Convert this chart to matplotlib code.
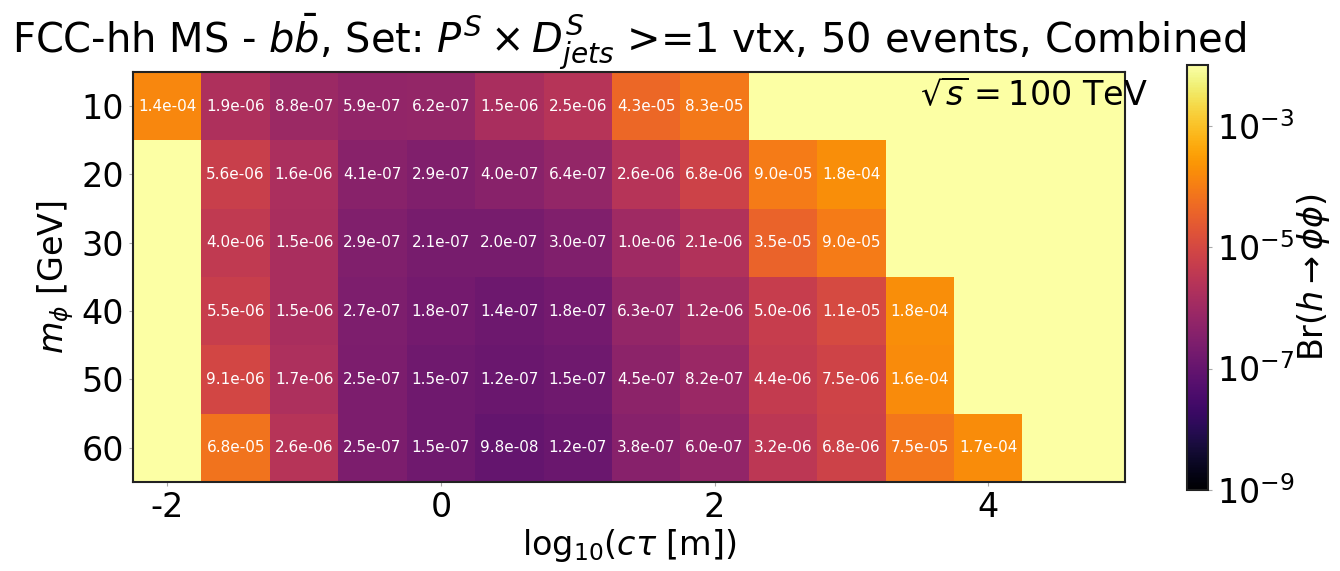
import matplotlib
matplotlib.use("Agg")
import matplotlib.pyplot as plt
import numpy as np
from matplotlib.colors import LogNorm

plt.rcParams["axes.unicode_minus"] = False

nan = np.nan

# log10(c tau [m]) column centres and m_phi rows
log_ctau = [-2.0, -1.5, -1.0, -0.5, 0.0, 0.5, 1.0, 1.5, 2.0, 2.5, 3.0, 3.5, 4.0, 4.5, 5.0]
m_phi = [10, 20, 30, 40, 50, 60]

# Br(h -> phi phi) limits, nan = no sensitivity
br_10 = [1.4e-04, 1.9e-06, 8.8e-07, 5.9e-07, 6.2e-07, 1.5e-06, 2.5e-06, 4.3e-05, 8.3e-05, nan, nan, nan, nan, nan, nan]
br_20 = [nan, 5.6e-06, 1.6e-06, 4.1e-07, 2.9e-07, 4.0e-07, 6.4e-07, 2.6e-06, 6.8e-06, 9.0e-05, 1.8e-04, nan, nan, nan, nan]
br_30 = [nan, 4.0e-06, 1.5e-06, 2.9e-07, 2.1e-07, 2.0e-07, 3.0e-07, 1.0e-06, 2.1e-06, 3.5e-05, 9.0e-05, nan, nan, nan, nan]
br_40 = [nan, 5.5e-06, 1.5e-06, 2.7e-07, 1.8e-07, 1.4e-07, 1.8e-07, 6.3e-07, 1.2e-06, 5.0e-06, 1.1e-05, 1.8e-04, nan, nan, nan]
br_50 = [nan, 9.1e-06, 1.7e-06, 2.5e-07, 1.5e-07, 1.2e-07, 1.5e-07, 4.5e-07, 8.2e-07, 4.4e-06, 7.5e-06, 1.6e-04, nan, nan, nan]
br_60 = [nan, 6.8e-05, 2.6e-06, 2.5e-07, 1.5e-07, 9.8e-08, 1.2e-07, 3.8e-07, 6.0e-07, 3.2e-06, 6.8e-06, 7.5e-05, 1.7e-04, nan, nan]

Z = np.array([br_10, br_20, br_30, br_40, br_50, br_60])
x = np.array(log_ctau)
y = np.array(m_phi, dtype=float)

# cell edges
dx = x[1] - x[0]
dy = y[1] - y[0]
xe = np.append(x - dx / 2, x[-1] + dx / 2)
ye = np.append(y - dy / 2, y[-1] + dy / 2)

cmap = plt.get_cmap("inferno").copy()
cmap.set_bad(cmap(1.0))
norm = LogNorm(vmin=1e-9, vmax=1e-2)

fig = plt.figure(figsize=(13.4, 5.71), dpi=100)
ax = fig.add_axes([0.0993, 0.1559, 0.7403, 0.718])
cax = fig.add_axes([0.8858, 0.1419, 0.0157, 0.7443])

mesh = ax.pcolormesh(xe, ye, np.ma.masked_invalid(Z), cmap=cmap, norm=norm)
for i in range(len(y)):
    for j in range(len(x)):
        v = Z[i, j]
        if np.isfinite(v):
            ax.text(x[j], y[i], f"{v:.1e}", ha="center", va="center",
                    color="white", fontsize=11)

ax.set_xlim(-2.25, 5.0)
ax.set_ylim(ye[-1], ye[0])
ax.set_xticks([-2, 0, 2, 4])
ax.set_yticks(m_phi)
ax.tick_params(labelsize=24, color="#aaaaaa", length=3)
for s in ax.spines.values():
    s.set_color("#222222")
    s.set_linewidth(1.5)

ax.set_xlabel(r"log$_{10}$($c\tau$ [m])", fontsize=24, labelpad=2)
ax.set_ylabel(r"$m_\phi$ [GeV]", fontsize=24)
ax.set_title(r"FCC-hh MS - $b\bar{b}$, Set: $P^S \times D^S_{jets}$ >=1 vtx, 50 events, Combined",
             fontsize=28.8, pad=8)
ax.text(0.793, 0.944, r"$\sqrt{s} = 100$ TeV", transform=ax.transAxes,
        fontsize=24, ha="left", va="center")

cb = fig.colorbar(mesh, cax=cax)
cb.set_ticks([1e-9, 1e-7, 1e-5, 1e-3])
cb.ax.minorticks_off()
cb.ax.tick_params(labelsize=24, color="#aaaaaa", length=3)
cb.outline.set_edgecolor("#222222")
cb.outline.set_linewidth(1.5)
cb.set_label(r"Br($h\to\phi\phi$)", fontsize=24, labelpad=0)

fig.savefig("out.png", dpi=100)
